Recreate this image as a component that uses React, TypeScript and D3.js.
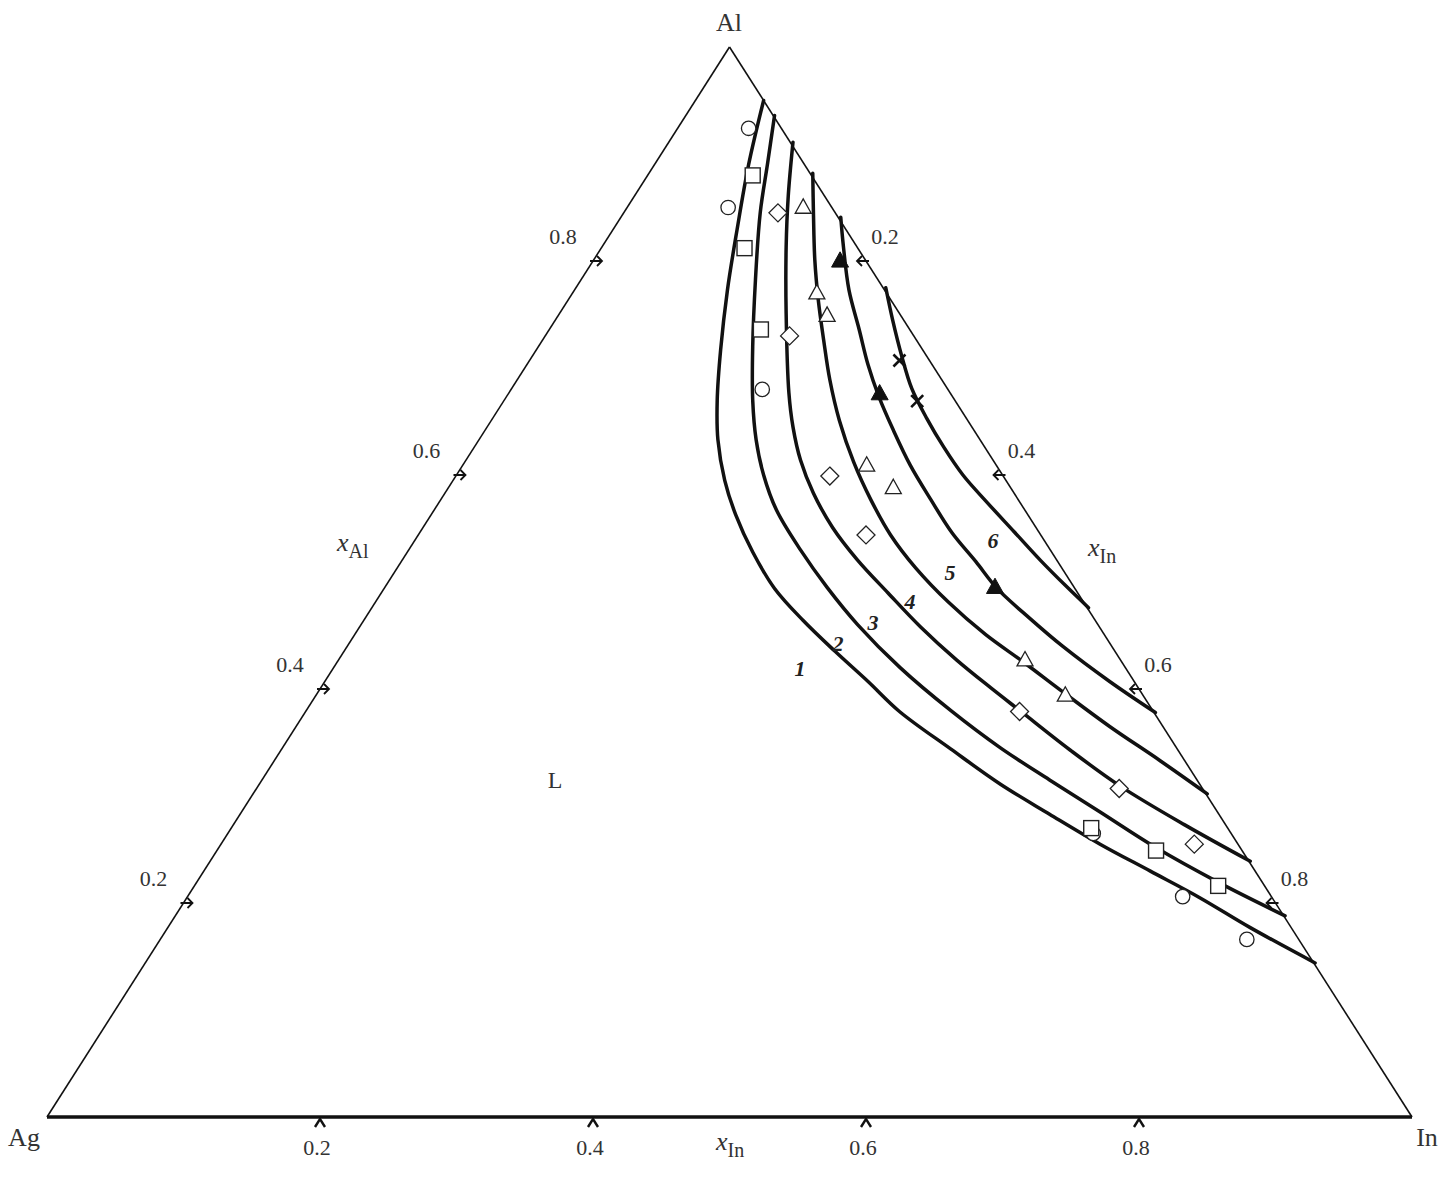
import React from "react";
import * as d3 from "d3";

const W = 1452;
const H = 1178;

// Compositions as [xIn, xAl]
const curve1 = [[0.050,0.950],[0.069,0.890],[0.091,0.829],[0.112,0.773],[0.135,0.717],[0.156,0.670],[0.175,0.633],[0.199,0.595],[0.223,0.563],[0.253,0.528],[0.286,0.494],[0.322,0.464],[0.360,0.435],[0.398,0.407],[0.435,0.379],[0.490,0.344],[0.543,0.311],[0.593,0.283],[0.644,0.255],[0.693,0.230],[0.742,0.205],[0.793,0.177],[0.857,0.144]];
const curve2 = [[0.065,0.936],[0.082,0.892],[0.100,0.845],[0.128,0.782],[0.157,0.720],[0.182,0.670],[0.203,0.633],[0.225,0.600],[0.251,0.567],[0.287,0.530],[0.324,0.495],[0.364,0.460],[0.415,0.420],[0.472,0.380],[0.526,0.345],[0.577,0.315],[0.629,0.285],[0.686,0.252],[0.749,0.219],[0.813,0.188]];
const curve3 = [[0.091,0.911],[0.113,0.860],[0.135,0.813],[0.166,0.751],[0.205,0.677],[0.224,0.645],[0.245,0.614],[0.270,0.583],[0.300,0.551],[0.333,0.521],[0.371,0.490],[0.411,0.458],[0.453,0.427],[0.491,0.401],[0.524,0.379],[0.578,0.343],[0.632,0.309],[0.697,0.273],[0.762,0.239]];
const curve4 = [[0.120,0.882],[0.139,0.845],[0.162,0.801],[0.183,0.764],[0.206,0.726],[0.229,0.689],[0.255,0.651],[0.285,0.612],[0.315,0.577],[0.346,0.544],[0.380,0.513],[0.420,0.481],[0.462,0.451],[0.503,0.425],[0.546,0.397],[0.596,0.365],[0.649,0.333],[0.699,0.302]];
const curve5 = [[0.161,0.841],[0.177,0.813],[0.201,0.773],[0.227,0.736],[0.250,0.703],[0.273,0.673],[0.299,0.642],[0.328,0.609],[0.359,0.577],[0.390,0.546],[0.421,0.519],[0.449,0.494],[0.487,0.466],[0.524,0.440],[0.575,0.407],[0.623,0.378]];
const curve6 = [[0.227,0.775],[0.247,0.745],[0.270,0.712],[0.293,0.681],[0.318,0.653],[0.344,0.626],[0.371,0.600],[0.402,0.574],[0.435,0.547],[0.468,0.520],[0.500,0.495],[0.525,0.476]];
const curves = [curve1, curve2, curve3, curve4, curve5, curve6];
const curveLabels = ["1", "2", "3", "4", "5", "6"];

// Experimental points [xIn, xAl]
const circlePts = [[0.052,0.924],[0.074,0.850],[0.184,0.680],[0.634,0.265],[0.729,0.206],[0.796,0.166]];
const squarePts = [[0.077,0.880],[0.105,0.812],[0.155,0.736],[0.630,0.270],[0.688,0.249],[0.750,0.216]];
const diamondPts = [[0.113,0.845],[0.179,0.730],[0.274,0.599],[0.328,0.544],[0.523,0.379],[0.632,0.307],[0.713,0.255]];
const openTriPts = [[0.129,0.850],[0.179,0.770],[0.197,0.749],[0.296,0.609],[0.326,0.588],[0.503,0.427],[0.549,0.394]];
const filledTriPts = [[0.181,0.800],[0.272,0.676],[0.447,0.495]];
const crossPts = [[0.271,0.707],[0.303,0.669]];

const ticks = [0.2, 0.4, 0.6, 0.8];
const tickLabels = ["0.2", "0.4", "0.6", "0.8"];

const FONT = "'Liberation Serif', 'Times New Roman', serif";
const TXT = "#333";

export default function App() {
  // ternary projection via linear scales: horizontal = xIn + xAl/2, vertical = xAl
  const sx = d3.scaleLinear().domain([0, 1]).range([47, 1412]);
  const sy = d3.scaleLinear().domain([0, 1]).range([1117, 47]);
  const px = (p: number[]) => sx(p[0] + p[1] / 2);
  const py = (p: number[]) => sy(p[1]);

  const line = d3
    .line<number[]>()
    .x((d) => px(d))
    .y((d) => py(d))
    .curve(d3.curveCatmullRom.alpha(0.5));

  const Ag = [0, 0], In = [1, 0], Al = [0, 1];

  const triPath = (cx: number, cy: number, s: number) => {
    const h = s * 0.9;
    return `M${cx},${cy - h * 0.6}L${cx + s / 2},${cy + h * 0.4}L${cx - s / 2},${cy + h * 0.4}Z`;
  };

  return (
    <svg
      width={W}
      height={H}
      style={{ position: "absolute", left: 0, top: 0, background: "#fff" }}
      fontFamily={FONT}
    >
      <rect x={0} y={0} width={W} height={H} fill="#fff" />
      {/* triangle edges */}
      <line x1={px(Ag)} y1={py(Ag)} x2={px(Al)} y2={py(Al)} stroke="#111" strokeWidth={1.6} />
      <line x1={px(Al)} y1={py(Al)} x2={px(In)} y2={py(In)} stroke="#111" strokeWidth={1.6} />
      <line x1={px(Ag)} y1={py(Ag)} x2={px(In)} y2={py(In)} stroke="#111" strokeWidth={3.4} />

      {/* left edge ticks: xAl */}
      {ticks.map((t, i) => {
        const p = [0, t];
        const x = px(p), y = py(p);
        return (
          <g key={"l" + i}>
            <path d={`M${x - 3},${y}L${x + 9},${y}M${x + 4},${y - 5}L${x + 9},${y}L${x + 4},${y + 5}`} stroke="#111" strokeWidth={1.8} fill="none" />
            <text x={x - 30} y={y - 17} fontSize={22} fill={TXT} textAnchor="middle">{tickLabels[i]}</text>
          </g>
        );
      })}
      {/* right edge ticks: xIn */}
      {ticks.map((t, i) => {
        const p = [t, 1 - t];
        const x = px(p), y = py(p);
        return (
          <g key={"r" + i}>
            <path d={`M${x + 3},${y}L${x - 9},${y}M${x - 4},${y - 5}L${x - 9},${y}L${x - 4},${y + 5}`} stroke="#111" strokeWidth={1.8} fill="none" />
            <text x={x + 19} y={y - 17} fontSize={22} fill={TXT} textAnchor="middle">{tickLabels[i]}</text>
          </g>
        );
      })}
      {/* bottom ticks: xIn */}
      {ticks.map((t, i) => {
        const p = [t, 0];
        const x = px(p), y = py(p);
        return (
          <g key={"b" + i}>
            <path d={`M${x - 5},${y + 10}L${x},${y + 2}L${x + 5},${y + 10}`} stroke="#111" strokeWidth={2.4} fill="none" />
            <text x={x - 3} y={y + 38} fontSize={22} fill={TXT} textAnchor="middle">{tickLabels[i]}</text>
          </g>
        );
      })}

      {/* corner labels */}
      <text x={729} y={31} fontSize={26} fill={TXT} textAnchor="middle">Al</text>
      <text x={24} y={1146} fontSize={26} fill={TXT} textAnchor="middle">Ag</text>
      <text x={1427} y={1146} fontSize={26} fill={TXT} textAnchor="middle">In</text>
      <text x={555} y={788} fontSize={24} fill={TXT} textAnchor="middle">L</text>

      {/* axis titles */}
      <text x={337} y={551} fontSize={26} fill={TXT} fontStyle="italic">x<tspan fontSize={20} fontStyle="normal" dy={7}>Al</tspan></text>
      <text x={1088} y={556} fontSize={26} fill={TXT} fontStyle="italic">x<tspan fontSize={20} fontStyle="normal" dy={7}>In</tspan></text>
      <text x={716} y={1150} fontSize={26} fill={TXT} fontStyle="italic">x<tspan fontSize={20} fontStyle="normal" dy={7}>In</tspan></text>

      {/* curves */}
      {curves.map((c, i) => (
        <path key={"c" + i} d={line(c) || ""} fill="none" stroke="#111" strokeWidth={3.5} strokeLinejoin="round" strokeLinecap="round" />
      ))}

      {/* curve labels */}
      {[[800, 676], [838, 651], [873, 630], [910, 609], [950, 580], [993, 548]].map((p, i) => (
        <text key={"cl" + i} x={p[0]} y={p[1]} fontSize={22} fontStyle="italic" fontWeight="bold" fill="#222" textAnchor="middle">{curveLabels[i]}</text>
      ))}

      {/* markers */}
      {circlePts.map((p, i) => (
        <circle key={"ci" + i} cx={px(p)} cy={py(p)} r={7.2} fill="#fff" stroke="#222" strokeWidth={1.3} />
      ))}
      {squarePts.map((p, i) => (
        <rect key={"sq" + i} x={px(p) - 7.5} y={py(p) - 7.5} width={15} height={15} fill="#fff" stroke="#222" strokeWidth={1.4} />
      ))}
      {diamondPts.map((p, i) => {
        const x = px(p), y = py(p), r = 9;
        return <path key={"di" + i} d={`M${x},${y - r}L${x + r},${y}L${x},${y + r}L${x - r},${y}Z`} fill="#fff" stroke="#222" strokeWidth={1.3} />;
      })}
      {openTriPts.map((p, i) => (
        <path key={"ot" + i} d={triPath(px(p), py(p), 16)} fill="#fff" stroke="#222" strokeWidth={1.3} />
      ))}
      {filledTriPts.map((p, i) => (
        <path key={"ft" + i} d={triPath(px(p), py(p), 17)} fill="#111" stroke="#111" strokeWidth={1} />
      ))}
      {crossPts.map((p, i) => {
        const x = px(p), y = py(p), r = 6;
        return <path key={"x" + i} d={`M${x - r},${y - r}L${x + r},${y + r}M${x + r},${y - r}L${x - r},${y + r}`} stroke="#111" strokeWidth={2.6} />;
      })}
    </svg>
  );
}
